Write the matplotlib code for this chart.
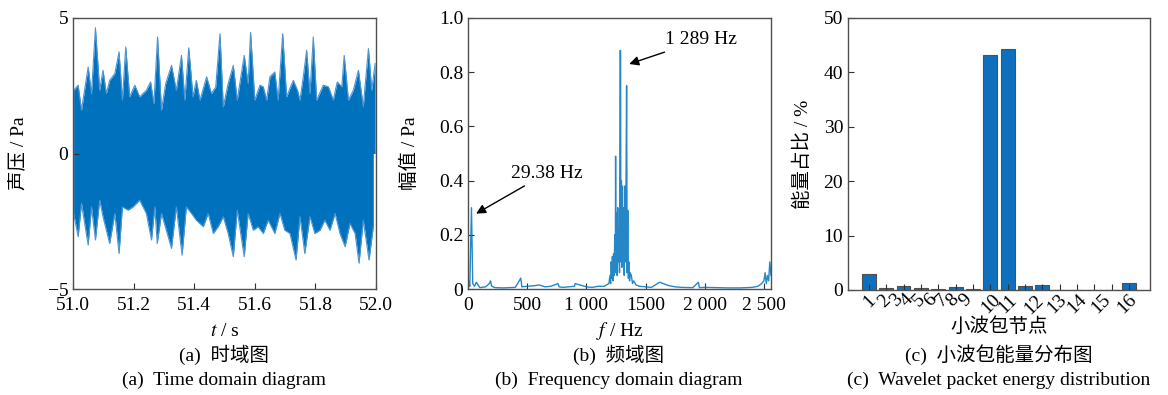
import matplotlib.pyplot as plt
from matplotlib.ticker import FixedLocator, FixedFormatter

plt.rcParams['font.family'] = ['Liberation Serif', 'Noto Sans CJK SC']
plt.rcParams['mathtext.fontset'] = 'stix'
plt.rcParams['font.size'] = 14
plt.rcParams['axes.unicode_minus'] = True

blue = '#0072BD'

# (a) time signal, read as upper / lower peak envelope
t_up = [51.002, 51.017, 51.028, 51.050, 51.061, 51.074, 51.088, 51.099, 51.110, 51.121,
        51.138, 51.152, 51.163, 51.174, 51.187, 51.204, 51.220, 51.242, 51.256, 51.267,
        51.279, 51.292, 51.306, 51.325, 51.341, 51.358, 51.369, 51.382, 51.396, 51.407,
        51.419, 51.441, 51.457, 51.471, 51.485, 51.496, 51.512, 51.529, 51.542, 51.565,
        51.578, 51.586, 51.600, 51.617, 51.628, 51.639, 51.650, 51.666, 51.677, 51.692,
        51.705, 51.716, 51.727, 51.741, 51.749, 51.760, 51.771, 51.782, 51.793, 51.804,
        51.826, 51.843, 51.859, 51.872, 51.887, 51.895, 51.909, 51.925, 51.942, 51.958,
        51.975, 51.986, 51.997]
p_up = [2.33, 2.52, 1.60, 3.19, 2.21, 4.64, 2.33, 3.07, 2.21, 2.70,
        2.95, 3.75, 1.97, 3.93, 2.09, 2.52, 2.09, 2.33, 2.64, 1.84,
        4.30, 1.60, 2.58, 3.25, 2.33, 3.62, 1.97, 3.90, 2.09, 2.70,
        1.97, 2.83, 2.21, 2.46, 4.42, 1.72, 2.58, 3.25, 1.97, 3.62,
        2.58, 4.47, 1.97, 2.52, 2.46, 1.97, 2.83, 3.01, 1.97, 4.42,
        2.09, 2.40, 2.70, 2.33, 1.97, 2.83, 3.81, 2.21, 4.30, 1.97,
        2.52, 2.46, 1.97, 2.64, 2.46, 3.62, 1.97, 2.33, 3.07, 1.72,
        3.87, 2.33, 3.32]
t_lo = [51.002, 51.017, 51.028, 51.050, 51.061, 51.074, 51.088, 51.099, 51.121, 51.138,
        51.152, 51.163, 51.182, 51.198, 51.220, 51.242, 51.259, 51.270, 51.278, 51.292,
        51.308, 51.325, 51.341, 51.360, 51.374, 51.391, 51.407, 51.430, 51.446, 51.463,
        51.479, 51.496, 51.512, 51.529, 51.542, 51.565, 51.578, 51.595, 51.611, 51.628,
        51.644, 51.666, 51.683, 51.699, 51.716, 51.736, 51.749, 51.765, 51.782, 51.798,
        51.815, 51.831, 51.848, 51.865, 51.881, 51.898, 51.914, 51.931, 51.944, 51.958,
        51.977, 51.991]
p_lo = [-2.21, -3.07, -1.84, -3.38, -1.97, -3.19, -1.72, -2.33, -3.32, -2.21,
        -3.69, -1.97, -2.09, -1.97, -1.72, -2.21, -3.19, -1.97, -3.32, -2.21,
        -2.83, -3.50, -1.97, -3.75, -1.97, -2.21, -2.46, -2.70, -2.21, -2.95,
        -2.70, -2.33, -2.95, -3.81, -2.09, -3.81, -2.21, -2.83, -2.70, -2.95,
        -2.46, -2.95, -2.21, -2.83, -2.95, -3.93, -2.33, -3.69, -2.33, -2.95,
        -2.83, -2.46, -2.83, -2.21, -2.95, -3.44, -2.58, -2.95, -4.05, -2.46,
        -3.93, -2.70]

# (b) spectrum
freq = [0, 5, 15, 29.38, 40, 55, 70, 100, 150, 180, 190, 200, 230, 300, 400, 446, 455,
        500, 560, 600, 650, 700, 760, 770, 800, 900, 905, 1000, 1050, 1100, 1150, 1190,
        1200, 1205, 1210, 1215, 1220, 1225, 1230, 1235, 1240, 1245, 1247, 1250, 1255,
        1260, 1265, 1270, 1275, 1280, 1285, 1289, 1292, 1296, 1300, 1305, 1310, 1315,
        1320, 1325, 1330, 1335, 1340, 1345, 1350, 1355, 1360, 1365, 1370, 1380, 1390,
        1400, 1420, 1450, 1500, 1550, 1600, 1620, 1650, 1680, 1700, 1750, 1800, 1900,
        1946, 1955, 2000, 2100, 2200, 2300, 2400, 2450, 2480, 2500, 2510, 2520, 2530,
        2540, 2550, 2560]
amp = [0.02, 0.03, 0.01, 0.30, 0.02, 0.01, 0.025, 0.005, 0.008, 0.02, 0.03, 0.01, 0.005,
       0.004, 0.006, 0.04, 0.008, 0.01, 0.012, 0.015, 0.008, 0.01, 0.02, 0.008, 0.006,
       0.01, 0.02, 0.008, 0.006, 0.01, 0.01, 0.02, 0.05, 0.02, 0.10, 0.04, 0.12, 0.03,
       0.13, 0.05, 0.20, 0.06, 0.49, 0.08, 0.28, 0.05, 0.30, 0.10, 0.22, 0.06, 0.88,
       0.88, 0.10, 0.40, 0.08, 0.38, 0.12, 0.30, 0.05, 0.38, 0.10, 0.39, 0.75, 0.06,
       0.29, 0.04, 0.10, 0.03, 0.06, 0.05, 0.02, 0.03, 0.015, 0.01, 0.008, 0.006, 0.02,
       0.025, 0.02, 0.015, 0.012, 0.008, 0.006, 0.005, 0.025, 0.005, 0.006, 0.005,
       0.004, 0.004, 0.006, 0.01, 0.02, 0.03, 0.06, 0.02, 0.05, 0.03, 0.10, 0.05]

# (c) wavelet packet energy
nodes = list(range(1, 17))
energy = [2.9, 0.3, 0.8, 0.3, 0.15, 0.5, 0.1, 43.2, 44.3, 0.75, 1.0, 0.08, 0.05, 0.05, 0.05, 1.35]
node_labels = [str(i) for i in range(1, 17)]
label_pos = [1.04, 1.92, 2.57, 3.17, 3.88, 4.55, 5.22, 5.80, 6.57, 8.04, 9.0, 10.54,
             11.84, 12.99, 14.37, 15.88]

fig = plt.figure(figsize=(11.68, 3.95), dpi=100)
W, H = 1168, 395


def make_ax(l, r, t, b):
    ax = fig.add_axes([l / W, 1 - b / H, (r - l) / W, (b - t) / H])
    for s in ax.spines.values():
        s.set_color('#505050')
        s.set_linewidth(1.0)
    ax.tick_params(direction='in', length=4, color='#303030', labelsize=14)
    ax.tick_params(axis='x', pad=6)
    return ax


ax1 = make_ax(73, 376, 18, 289)
ax1.fill_between(t_up, 0, p_up, color=blue, lw=0)
ax1.fill_between(t_lo, p_lo, 0, color=blue, lw=0)
ax1.plot(t_up, p_up, color='#4d94d1', lw=0.8)
ax1.plot(t_lo, p_lo, color='#4d94d1', lw=0.8)
ax1.set_xlim(51.0, 52.0)
ax1.set_ylim(-5, 5)
ax1.set_xticks([51.0, 51.2, 51.4, 51.6, 51.8, 52.0])
ax1.set_xticklabels(['51.0', '51.2', '51.4', '51.6', '51.8', '52.0'])
ax1.set_yticks([-5, 0, 5])
ax1.set_ylabel('声压 / Pa', labelpad=14)
ax1.set_xlabel(r'$t$ / s', labelpad=6)

ax2 = make_ax(468, 771, 18, 289)
ax2.plot(freq, amp, color=blue, lw=1.0, alpha=0.85)
ax2.set_xlim(0, 2560)
ax2.set_ylim(0, 1.0)
ax2.set_xticks([0, 500, 1000, 1500, 2000, 2500])
ax2.set_xticklabels(['0', '500', '1 000', '1500', '2 000', '2 500'])
ax2.set_yticks([0, 0.2, 0.4, 0.6, 0.8, 1.0])
ax2.set_yticklabels(['0', '0.2', '0.4', '0.6', '0.8', '1.0'])
ax2.set_ylabel('幅值 / Pa', labelpad=14)
ax2.set_xlabel(r'$f$ / Hz', labelpad=4)
ax2.annotate('1 289 Hz', xy=(1340, 0.827), xytext=(1663, 0.919), va='center',
             arrowprops=dict(arrowstyle='-|>', color='black', lw=1, mutation_scale=14))
ax2.annotate('29.38 Hz', xy=(48, 0.273), xytext=(361, 0.427), va='center',
             arrowprops=dict(arrowstyle='-|>', color='black', lw=1, mutation_scale=14))

ax3 = make_ax(848, 1150, 18, 290)
ax3.bar(nodes, energy, width=0.8, color='#0F6FBF', edgecolor='#505050', linewidth=0.8)
ax3.set_xlim(-0.2, 17.2)
ax3.set_ylim(0, 50)
ax3.set_yticks([0, 10, 20, 30, 40, 50])
ax3.xaxis.remove_overlapping_locs = False
ax3.set_xticks(nodes)
ax3.set_xticklabels([])
ax3.xaxis.set_minor_locator(FixedLocator(label_pos))
ax3.xaxis.set_minor_formatter(FixedFormatter(node_labels))
ax3.tick_params(axis='x', which='minor', length=0, labelsize=14, labelrotation=45, pad=1)
ax3.set_ylabel('能量占比 / %', labelpad=8)
ax3.set_xlabel('小波包节点', labelpad=0)

for cx, cn, en in [(224, '(a)  时域图', '(a)  Time domain diagram'),
                   (619, '(b)  频域图', '(b)  Frequency domain diagram'),
                   (999, '(c)  小波包能量分布图', '(c)  Wavelet packet energy distribution')]:
    fig.text(cx / W, 1 - 355 / H, cn, ha='center', va='center', fontsize=14)
    fig.text(cx / W, 1 - 380 / H, en, ha='center', va='center', fontsize=14)

fig.savefig('out.png', dpi=100)
